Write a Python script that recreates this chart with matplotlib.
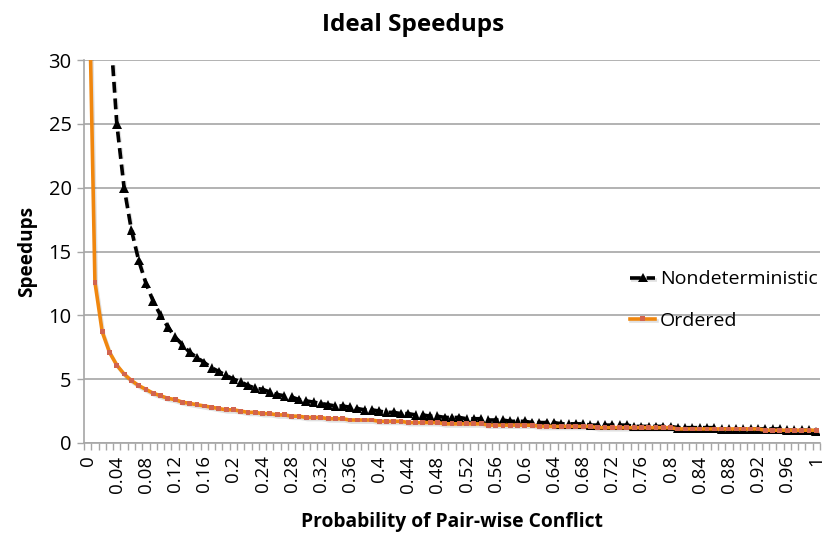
import numpy as np
import matplotlib
matplotlib.use("Agg")
import matplotlib.pyplot as plt
import matplotlib.patheffects as pe

plt.rcParams["font.family"] = ["Open Sans", "DejaVu Sans"]

# conflict probability, 0 .. 1 in steps of 0.01
probability = np.round(np.arange(101) * 0.01, 2)

# (values above 30 run off the top)
nondeterministic = [
    np.nan, 100, 50, 33.3, 25, 20, 16.7, 14.3, 12.5, 11.1,
    10, 9.1, 8.3, 7.7, 7.1, 6.7, 6.3, 5.9, 5.6, 5.3,
    5.0, 4.8, 4.5, 4.3, 4.2, 4.0, 3.8, 3.7, 3.6, 3.4,
    3.3, 3.2, 3.1, 3.0, 2.9, 2.9, 2.8, 2.7, 2.6, 2.6,
    2.5, 2.4, 2.4, 2.3, 2.3, 2.2, 2.2, 2.1, 2.1, 2.0,
    2.0, 2.0, 1.9, 1.9, 1.9, 1.8, 1.8, 1.8, 1.7, 1.7,
    1.7, 1.6, 1.6, 1.6, 1.6, 1.5, 1.5, 1.5, 1.5, 1.4,
    1.4, 1.4, 1.4, 1.4, 1.4, 1.3, 1.3, 1.3, 1.3, 1.3,
    1.3, 1.2, 1.2, 1.2, 1.2, 1.2, 1.2, 1.1, 1.1, 1.1,
    1.1, 1.1, 1.1, 1.1, 1.1, 1.1, 1.0, 1.0, 1.0, 1.0,
    0.9,
]
ordered = [
    42, 12.6, 8.7, 7.1, 6.1, 5.4, 4.9, 4.5, 4.2, 3.9,
    3.7, 3.5, 3.4, 3.2, 3.1, 3.0, 2.9, 2.8, 2.7, 2.6,
    2.6, 2.5, 2.4, 2.4, 2.3, 2.3, 2.2, 2.2, 2.1, 2.1,
    2.0, 2.0, 2.0, 1.9, 1.9, 1.9, 1.8, 1.8, 1.8, 1.8,
    1.7, 1.7, 1.7, 1.7, 1.6, 1.6, 1.6, 1.6, 1.6, 1.5,
    1.5, 1.5, 1.5, 1.5, 1.5, 1.4, 1.4, 1.4, 1.4, 1.4,
    1.4, 1.4, 1.3, 1.3, 1.3, 1.3, 1.3, 1.3, 1.3, 1.3,
    1.2, 1.2, 1.2, 1.2, 1.2, 1.2, 1.2, 1.2, 1.2, 1.2,
    1.2, 1.1, 1.1, 1.1, 1.1, 1.1, 1.1, 1.1, 1.1, 1.1,
    1.1, 1.1, 1.1, 1.0, 1.0, 1.0, 1.0, 1.0, 1.0, 1.0,
    1.0,
]

grid_color = "#a6a6a6"
shadow = [pe.SimpleLineShadow(offset=(1, -1.5), shadow_color="black", alpha=0.12), pe.Normal()]

fig = plt.figure(figsize=(8.26, 5.35), dpi=100)
ax = fig.add_axes([84 / 826, (535 - 443) / 535, (820 - 84) / 826, (443 - 60) / 535])

x = np.arange(len(probability))
ax.plot(x, nondeterministic, color="black", lw=2.6, ls=(0, (3, 1.6)),
        marker="^", ms=7, markeredgewidth=0, label="Nondeterministic",
        path_effects=shadow)
ax.plot(x, ordered, color="#f0870f", lw=2.6, marker="s", ms=3.5,
        markerfacecolor="#d2644e", markeredgewidth=0, label="Ordered",
        path_effects=shadow)

ax.set_ylim(0, 30)
ax.set_xlim(-0.5, len(x) - 0.5)
ax.set_yticks(range(0, 31, 5))
ax.yaxis.grid(True, color=grid_color, lw=1.2)
ax.set_axisbelow(True)

ax.set_xticks(x[::4])
ax.set_xticklabels([f"{p:g}" for p in probability[::4]], rotation=90)
ax.set_xticks(np.arange(-0.5, len(x), 1), minor=True)
ax.tick_params(axis="x", which="major", length=0, pad=9, labelsize=13.5)
ax.tick_params(axis="x", which="minor", length=5, color=grid_color, width=1)
ax.tick_params(axis="y", length=5, color=grid_color, width=1, labelsize=14.5, pad=4)

for side in ["top", "right"]:
    ax.spines[side].set_visible(False)
for side in ["left", "bottom"]:
    ax.spines[side].set_color(grid_color)
    ax.spines[side].set_linewidth(1.2)

ax.set_ylabel("Speedups", fontsize=13.7, fontweight="bold", labelpad=8)
ax.set_xlabel("Probability of Pair-wise Conflict", fontsize=13.9, fontweight="bold", labelpad=14)
fig.suptitle("Ideal Speedups", fontsize=17.5, fontweight="bold", y=0.975)

ax.legend(loc="center left", bbox_to_anchor=(630 / 826, 1 - 300 / 535),
          bbox_transform=fig.transFigure, frameon=False, fontsize=14,
          borderpad=0, borderaxespad=0,
          handlelength=1.3, handletextpad=0.25, labelspacing=1.2)

fig.savefig("out.png", dpi=100)
